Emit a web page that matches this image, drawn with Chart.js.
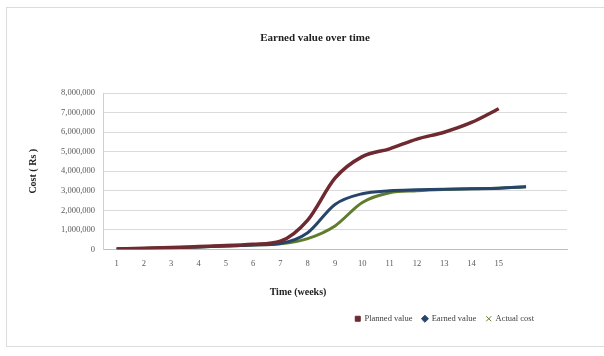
<!DOCTYPE html>
<html>
<head>
<meta charset="utf-8">
<script src="https://cdn.jsdelivr.net/npm/chart.js@4.4.1/dist/chart.umd.min.js"></script>
<style>
  html, body { margin: 0; padding: 0; background: #fff; }
  #wrap { position: relative; width: 604px; height: 356px; overflow: hidden; background: #fff; }
  #frame { position: absolute; left: 6px; top: 7px; width: 610px; height: 340px; border: 1px solid #dcdcdc; box-sizing: border-box; }
  canvas { position: absolute; left: 0; top: 0; }
</style>
</head>
<body>
<div id="wrap">
  <div id="frame"></div>
  <canvas id="chart" width="604" height="356"></canvas>
</div>
<script>
// Week labels (two trailing slots keep room on the right of the plot)
const weeks = ['1', '2', '3', '4', '5', '6', '7', '8', '9', '10', '11', '12', '13', '14', '15', '', ''];

// Cumulative cost per week (Rs)
const plannedValue = [20000, 50000, 90000, 140000, 190000, 260000, 420000, 1500000, 3650000, 4750000, 5150000, 5650000, 6000000, 6500000, 7200000, null, null];
const earnedValue  = [15000, 40000, 80000, 120000, 170000, 220000, 300000, 850000, 2300000, 2850000, 3000000, 3050000, 3080000, 3100000, 3130000, 3200000, null];
const actualCost   = [15000, 40000, 80000, 120000, 170000, 220000, 280000, 550000, 1200000, 2400000, 2900000, 3000000, 3060000, 3100000, 3130000, 3200000, null];

const seriesNames = ['Planned value', 'Earned value', 'Actual cost'];
const chartTitle = 'Earned value over time';
const xTitle = 'Time (weeks)';
const yTitle = 'Cost ( Rs )';

const SERIF = '"Liberation Serif", "Times New Roman", serif';

// Places the title and legend, and writes the x-axis caption under the week labels
const captions = {
  id: 'captions',
  afterLayout(chart) {
    const area = chart.chartArea;
    const mid = (area.left + area.right) / 2;
    const t = chart.titleBlock;
    const half = (t.right - t.left) / 2;
    const centre = mid - 20;
    t.left = centre - half;
    t.right = centre + half;
    chart.legend.right = area.right - 23;
  },
  afterDraw(chart) {
    const { ctx, chartArea, scales } = chart;
    ctx.save();
    ctx.font = 'bold 10px ' + SERIF;
    ctx.fillStyle = '#222';
    ctx.textAlign = 'center';
    ctx.textBaseline = 'middle';
    ctx.fillText(xTitle, (chartArea.left + chartArea.right) / 2 - 37, scales.x.top + 43);
    ctx.restore();
  }
};

const line = (label, data, color, style, width) => ({
  label,
  data,
  borderColor: color,
  backgroundColor: color,
  borderWidth: width,
  pointRadius: 0,
  pointHoverRadius: 0,
  pointStyle: style,
  cubicInterpolationMode: 'monotone',
  spanGaps: false,
  fill: false
});

new Chart(document.getElementById('chart'), {
  type: 'line',
  data: {
    labels: weeks,
    datasets: [
      line(seriesNames[0], plannedValue, '#6e2a30', 'rect', 3.5),
      line(seriesNames[1], earnedValue, '#27456a', 'rectRot', 3),
      line(seriesNames[2], actualCost, '#5f7d2c', 'crossRot', 3)
    ]
  },
  options: {
    responsive: false,
    animation: false,
    devicePixelRatio: 1,
    layout: { padding: { left: 20, right: 37, top: 0, bottom: 23 } },
    plugins: {
      title: {
        display: true,
        text: chartTitle,
        color: '#222',
        font: { family: SERIF, size: 11, weight: 'bold' },
        padding: { top: 32, bottom: 48 }
      },
      legend: {
        position: 'bottom',
        align: 'end',
        labels: {
          usePointStyle: true,
          boxWidth: 5,
          boxHeight: 5,
          padding: 10,
          color: '#404040',
          font: { family: SERIF, size: 8.5 },
          generateLabels(chart) {
            return Chart.defaults.plugins.legend.labels.generateLabels(chart)
              .map(item => ({ ...item, lineWidth: 1 }));
          }
        }
      },
      tooltip: { enabled: false }
    },
    scales: {
      x: {
        offset: true,
        grid: { display: false, drawTicks: false },
        border: { display: true, color: '#bfbfbf' },
        ticks: {
          padding: 9,
          autoSkip: false,
          maxRotation: 0,
          color: '#595959',
          font: { family: SERIF, size: 8.5 }
        },
        afterFit(scale) { scale.height += 27; }
      },
      y: {
        min: 0,
        max: 8000000,
        grid: { color: '#dadada', drawTicks: false },
        border: { display: true, color: '#d0d0d0' },
        ticks: {
          stepSize: 1000000,
          padding: 8,
          color: '#595959',
          font: { family: SERIF, size: 8.5 },
          callback: v => v.toLocaleString('en-US')
        },
        title: {
          display: true,
          text: yTitle,
          color: '#222',
          font: { family: SERIF, size: 10, weight: 'bold' },
          padding: { top: 7, bottom: 14 }
        }
      }
    }
  },
  plugins: [captions]
});
</script>
</body>
</html>
